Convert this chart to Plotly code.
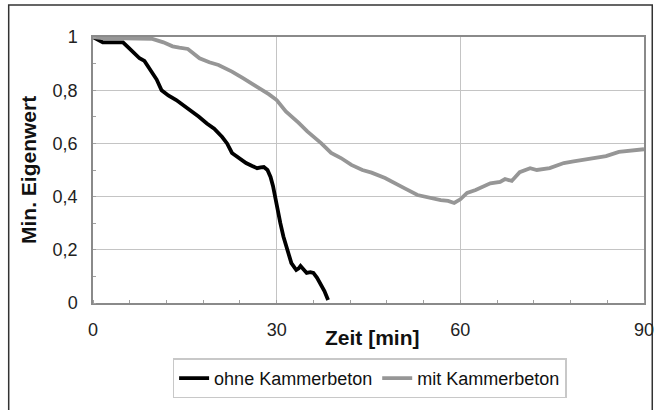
import plotly.graph_objects as go

# Data
t_ohne = [0, 0.8, 1.6, 3.0, 4.9, 5.8, 6.6, 7.6, 8.4, 9.6, 10.4, 11.2, 12.3, 13.6, 15.0, 16.2,
          17.3, 18.6, 19.8, 21.1, 21.9, 22.7, 23.8, 25.0, 26.0, 26.8, 27.4, 27.9, 28.5, 29.0,
          29.4, 29.8, 30.2, 30.6, 31.1, 31.6, 32.0, 32.4, 33.2, 33.6, 33.9, 34.4, 34.9, 35.5,
          36.0, 36.6, 37.1, 37.8, 38.4]
y_ohne = [1.0, 0.99, 0.98, 0.98, 0.98, 0.96, 0.94, 0.92, 0.91, 0.865, 0.84, 0.80, 0.78, 0.763,
          0.74, 0.72, 0.70, 0.675, 0.655, 0.624, 0.60, 0.564, 0.545, 0.526, 0.515, 0.507, 0.51,
          0.511, 0.50, 0.474, 0.44, 0.387, 0.35, 0.30, 0.25, 0.21, 0.18, 0.15, 0.124, 0.13,
          0.139, 0.125, 0.113, 0.116, 0.113, 0.095, 0.075, 0.045, 0.011]

t_mit = [0, 2, 5, 8, 9.7, 11.5, 13, 14.1, 15.5, 17.4, 19, 20.5, 22.7, 24.5, 27.1, 28.7, 30.0,
         31.5, 33.6, 35, 37.3, 38.9, 40.5, 42.2, 44, 45.5, 47.7, 49.5, 51, 53.0, 55, 56.8, 58,
         59.0, 60, 61.1, 62.5, 64.9, 66.5, 67.3, 68.4, 69.7, 71.4, 72.5, 74.6, 76.9, 78.5,
         80.6, 82, 83.8, 85.9, 87.5, 89.8, 90]
y_mit = [1.0, 0.995, 0.995, 0.995, 0.993, 0.98, 0.965, 0.96, 0.955, 0.92, 0.905, 0.895, 0.87,
         0.845, 0.81, 0.785, 0.763, 0.72, 0.677, 0.645, 0.60, 0.564, 0.545, 0.519, 0.50, 0.49,
         0.47, 0.45, 0.43, 0.406, 0.395, 0.387, 0.384, 0.376, 0.39, 0.414, 0.425, 0.45, 0.455,
         0.466, 0.459, 0.492, 0.507, 0.50, 0.507, 0.526, 0.532, 0.541, 0.547, 0.552, 0.568,
         0.573, 0.579, 0.578]

x_ticks = [0, 30, 60, 90]
x_ticktext = ["0", "30", "60", "90"]
y_ticks = [0, 0.2, 0.4, 0.6, 0.8, 1.0]
y_ticktext = ["0", "0,2", "0,4", "0,6", "0,8", "1"]

FONT = "Liberation Sans, Arial, sans-serif"

fig = go.Figure()
fig.add_trace(go.Scatter(x=t_ohne, y=y_ohne, mode="lines", name="ohne Kammerbeton",
                         line=dict(color="#000000", width=3.8)))
fig.add_trace(go.Scatter(x=t_mit, y=y_mit, mode="lines", name="mit Kammerbeton",
                         line=dict(color="#969696", width=3.8)))

fig.update_layout(
    width=666, height=410,
    margin=dict(l=93, r=18, t=37, b=107),
    paper_bgcolor="white", plot_bgcolor="white",
    font=dict(family=FONT, size=17, color="#222"),
    showlegend=True,
    legend=dict(orientation="h", x=0.502, xanchor="center", y=-0.208, yanchor="top",
                bordercolor="#c8c8c8", borderwidth=1.5, font=dict(size=18, color="#111"),
                itemwidth=30, tracegroupgap=0),
    xaxis=dict(range=[0, 90], tickvals=x_ticks, ticktext=x_ticktext,
               showgrid=True, gridcolor="#c4c4c4", gridwidth=1,
               showline=True, linecolor="#8a8a8a", linewidth=1.5, mirror=True,
               ticks="", ticklabelstandoff=10, zeroline=False,
               tickfont=dict(size=18, color="#222"),
               minor=dict(dtick=6, ticks="inside", ticklen=3, tickcolor="#a0a0a0", showgrid=False)),
    yaxis=dict(range=[0, 1], tickvals=y_ticks, ticktext=y_ticktext,
               showgrid=True, gridcolor="#c4c4c4", gridwidth=1,
               showline=True, linecolor="#8a8a8a", linewidth=1.5, mirror=True,
               ticks="", ticklabelstandoff=10, zeroline=False,
               tickfont=dict(size=18, color="#222"),
               minor=dict(dtick=0.1, ticks="inside", ticklen=3, tickcolor="#a0a0a0", showgrid=False)),
    annotations=[
        dict(text="<b>Zeit [min]</b>", xref="paper", yref="paper", x=0.508, y=-0.13,
             xanchor="center", yanchor="middle", showarrow=False,
             font=dict(size=21, color="#111")),
        dict(text="<b>Min. Eigenwert</b>", xref="paper", yref="paper", x=-0.118, y=0.5,
             xanchor="center", yanchor="middle", textangle=-90, showarrow=False,
             font=dict(size=21, color="#111")),
    ],
    shapes=[
        dict(type="rect", xref="paper", yref="paper", x0=-0.153, x1=1.015, y0=-0.6, y1=1.12,
             line=dict(color="#333", width=1.5), fillcolor="rgba(0,0,0,0)", layer="below"),
    ],
)

fig.write_html("out.html")
